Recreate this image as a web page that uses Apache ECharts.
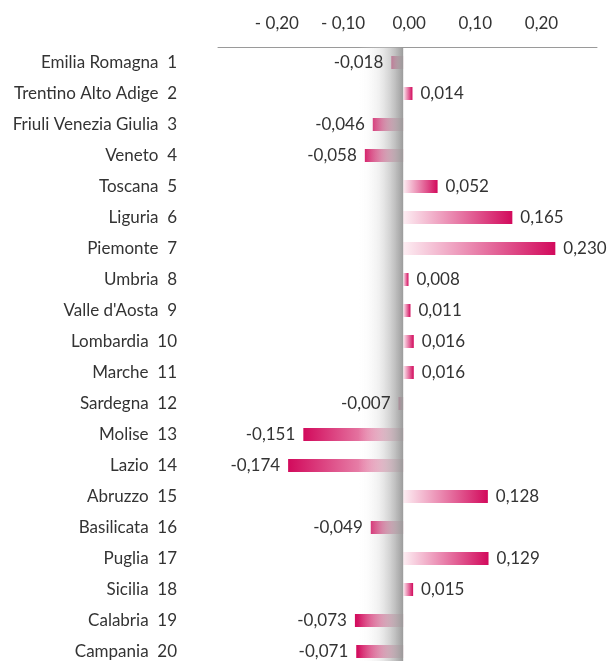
<!DOCTYPE html>
<html>
<head>
<meta charset="utf-8">
<script src="https://cdn.jsdelivr.net/npm/echarts@6/dist/echarts.min.js"></script>
<style>
  html, body { margin: 0; padding: 0; background: #fff; }
  #chart { width: 611px; height: 661px; }
</style>
</head>
<body>
<div id="chart"></div>
<script>
// regioni in ordine di graduatoria
const regions = [
  'Emilia Romagna', 'Trentino Alto Adige', 'Friuli Venezia Giulia', 'Veneto',
  'Toscana', 'Liguria', 'Piemonte', 'Umbria', "Valle d'Aosta", 'Lombardia',
  'Marche', 'Sardegna', 'Molise', 'Lazio', 'Abruzzo', 'Basilicata',
  'Puglia', 'Sicilia', 'Calabria', 'Campania'
]
const ranks = [1, 2, 3, 4, 5, 6, 7, 8, 9, 10, 11, 12, 13, 14, 15, 16, 17, 18, 19, 20]
const values = [
  -0.018, 0.014, -0.046, -0.058, 0.052, 0.165, 0.230, 0.008, 0.011, 0.016,
  0.016, -0.007, -0.151, -0.174, 0.128, -0.049, 0.129, 0.015, -0.073, -0.071
]
const tickValues = [-0.2, -0.1, 0, 0.1, 0.2]
const tickLabels = ['- 0,20', '- 0,10', '0,00', '0,10', '0,20']

const font = 'Lato'
const fontSize = 17
const textColor = '#333'
const dark = '#d20a5c'
const light = '#fdeef3'

function fmt(v) {
  return v.toFixed(3).replace('.', ',')
}

const chart = echarts.init(document.getElementById('chart'))
chart.setOption({
  animation: false,
  grid: { left: 218, right: 14, top: 47, height: 620, outerBoundsMode: 'none' },
  xAxis: {
    type: 'value',
    position: 'top',
    min: -0.28,
    max: 0.293,
    axisLine: { show: true, onZero: false, lineStyle: { color: '#9a9a9a', width: 1 } },
    axisTick: { show: false },
    splitLine: { show: false },
    axisLabel: {
      customValues: tickValues,
      formatter: v => tickLabels[tickValues.findIndex(t => Math.abs(t - v) < 1e-9)],
      margin: 15,
      padding: [0, 0, 0, 12],
      fontSize: fontSize,
      fontFamily: font,
      color: textColor
    }
  },
  yAxis: {
    type: 'category',
    inverse: true,
    data: regions,
    axisLine: { show: false },
    axisTick: { show: false },
    axisLabel: {
      formatter: (v, i) => v + '  ' + ranks[i],
      margin: 41,
      fontSize: fontSize,
      fontFamily: font,
      color: textColor
    }
  },
  series: [
    {
      // barre con sfumatura
      type: 'bar',
      z: 2,
      data: values,
      barWidth: 13,
      itemStyle: {
        color: p => p.value < 0
          ? new echarts.graphic.LinearGradient(0, 0, 1, 0, [
              { offset: 0, color: dark },
              { offset: 1, color: '#f3c6d5' }
            ])
          : new echarts.graphic.LinearGradient(0, 0, 1, 0, [
              { offset: 0, color: light },
              { offset: 1, color: dark }
            ])
      },
      // ombra sullo zero
      markArea: {
        silent: true,
        z: 3,
        itemStyle: {
          color: new echarts.graphic.LinearGradient(0, 0, 1, 0, [
            { offset: 0, color: 'rgba(255,255,255,0)' },
            { offset: 0.45, color: 'rgba(215,215,215,0.35)' },
            { offset: 1, color: 'rgba(150,150,150,0.95)' }
          ])
        },
        data: [[
          { xAxis: -0.068, yAxis: regions[0] },
          { xAxis: 0, yAxis: regions[regions.length - 1] }
        ]]
      }
    },
    {
      // solo etichette, sopra l'ombra
      type: 'bar',
      z: 10,
      barGap: '-100%',
      barWidth: 13,
      silent: true,
      itemStyle: { color: 'rgba(0,0,0,0)' },
      data: values.map(v => v < 0 ? { value: v, label: { position: 'left' } } : v),
      label: {
        show: true,
        position: 'right',
        distance: 8,
        formatter: p => fmt(p.value),
        fontSize: fontSize,
        fontFamily: font,
        color: textColor
      }
    }
  ]
})
</script>
</body>
</html>
